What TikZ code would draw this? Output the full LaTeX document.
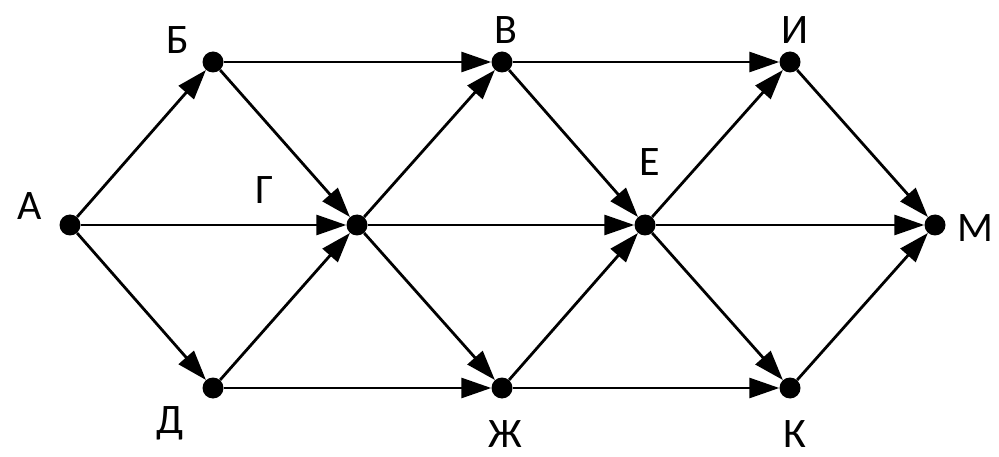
\documentclass[tikz,border=0pt]{standalone}
\usepackage{fontspec}
\setmainfont{Carlito}
\usetikzlibrary{arrows.meta}
\begin{document}
\begin{tikzpicture}[x=1pt,y=-1pt,
  vtx/.style={circle,fill=black,minimum size=21pt,inner sep=0pt},
  lbl/.style={font=\fontsize{42}{42}\selectfont,inner sep=0pt},
  edge/.style={line width=2.8pt,-{Triangle[length=30pt,width=20pt]}}]
\useasboundingbox (0,0) rectangle (999,457);
\node[vtx] (A) at (70,225) {};
\node[vtx] (B) at (213,62) {};
\node[vtx] (G) at (357,225) {};
\node[vtx] (V) at (502,62) {};
\node[vtx] (E) at (645,225) {};
\node[vtx] (I) at (790,62) {};
\node[vtx] (M) at (935,225) {};
\node[vtx] (D) at (213,388) {};
\node[vtx] (Zh) at (502,388) {};
\node[vtx] (K) at (790,388) {};
\node[lbl] (lA) at (30,206) {А};
\node[lbl] (lB) at (178,40) {Б};
\node[lbl] (lG) at (265,190) {Г};
\node[lbl] (lV) at (506,30) {В};
\node[lbl] (lE) at (650,162) {Е};
\node[lbl] (lI) at (795,30) {И};
\node[lbl] (lM) at (975,228) {М};
\node[lbl] (lD) at (170,423) {Д};
\node[lbl] (lZh) at (505,434) {Ж};
\node[lbl] (lK) at (795,434) {К};
\foreach \s/\t in {A/B,A/G,A/D,B/V,B/G,D/G,D/Zh,G/V,G/E,G/Zh,V/I,V/E,Zh/E,Zh/K,E/I,E/M,E/K,I/M,K/M}
  \draw[edge] (\s) -- (\t);
\end{tikzpicture}
\end{document}
